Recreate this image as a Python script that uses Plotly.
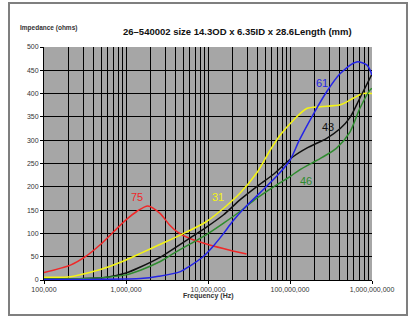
import math
import plotly.graph_objects as go

# ---- data (frequency in Hz, impedance in ohms) ----
f75 = [1.0e5, 2.1e5, 3.2e5, 4.8e5, 7.1e5, 1.0e6, 1.35e6, 1.85e6, 2.6e6, 3.4e6, 4.3e6, 6.0e6, 1.05e7, 1.85e7, 2.95e7]
z75 = [16, 32, 50, 75, 104, 129, 147, 159, 143, 118, 102, 89, 75, 64, 56]

f31 = [1.0e5, 2.1e5, 3.6e5, 6.3e5, 1.0e6, 1.5e6, 2.5e6, 4.8e6, 9.5e6, 1.55e7, 2.45e7, 3.9e7, 5.75e7, 7.6e7, 1.1e8, 1.6e8, 2.35e8, 4.1e8, 5.9e8, 7.8e8, 1.0e9]
z31 = [6, 7, 16, 29, 43, 57, 75, 98, 125, 154, 186, 229, 279, 311, 343, 368, 372, 376, 390, 400, 400]

f43 = [1.0e5, 3.2e5, 5.8e5, 1.0e6, 1.5e6, 2.5e6, 6.0e6, 9.5e6, 1.55e7, 2.45e7, 3.9e7, 6.3e7, 1.1e8, 1.6e8, 2.8e8, 4.1e8, 5.4e8, 7.1e8, 1.0e9]
z43 = [2, 3, 6, 15, 28, 47, 90, 113, 140, 172, 200, 227, 265, 283, 304, 325, 349, 390, 442]

f46 = [1.0e5, 3.2e5, 1.0e6, 1.5e6, 2.5e6, 3.8e6, 6.0e6, 9.5e6, 1.55e7, 2.45e7, 3.9e7, 6.3e7, 1.0e8, 1.3e8, 2.35e8, 3.7e8, 5.4e8, 7.1e8, 9.5e8, 1.0e9]
z46 = [2, 3, 11, 21, 38, 57, 77, 97, 122, 147, 175, 200, 222, 236, 261, 283, 318, 368, 408, 411]

f61 = [1.0e5, 3.2e5, 1.0e6, 1.5e6, 2.5e6, 4.6e6, 6.0e6, 8.7e6, 1.15e7, 1.55e7, 2.0e7, 2.8e7, 4.3e7, 6.9e7, 1.0e8, 1.3e8, 1.9e8, 2.8e8, 4.1e8, 6.5e8, 8.7e8, 1.0e9]
z61 = [1, 1, 2, 3, 8, 18, 30, 50, 72, 100, 126, 155, 187, 223, 257, 300, 354, 404, 443, 468, 461, 440]

series = [
    ("75", f75, z75, "#f02828"),
    ("31", f31, z31, "#f4f414"),
    ("43", f43, z43, "#101010"),
    ("46", f46, z46, "#2e8b2e"),
    ("61", f61, z61, "#2424e6"),
]

# label positions (frequency, ohms)
label_f = {"75": 1.35e6, "31": 1.33e7, "61": 2.45e8, "43": 2.93e8, "46": 1.57e8}
label_z = {"75": 178, "31": 178, "61": 422, "43": 329, "46": 212}

x_tickvals = [1e5, 1e6, 1e7, 1e8, 1e9]
x_ticktext = ["100,000", "1,000,000", "10,000,000", "100,000,000", "1,000,000,000"]
y_tickvals = [0, 50, 100, 150, 200, 250, 300, 350, 400, 450, 500]

fig = go.Figure()
for name, f, z, c in series:
    fig.add_trace(go.Scatter(x=f, y=z, mode="lines", name=name,
                             line=dict(color=c, width=1.5, shape="spline", smoothing=0.8),
                             hoverinfo="skip"))
    fig.add_annotation(x=math.log10(label_f[name]), y=label_z[name], text=name,
                       showarrow=False, font=dict(family="Liberation Sans, Arial", size=11, color=c))

fig.update_layout(
    width=419, height=324,
    margin=dict(l=44, r=47, t=47, b=44),
    paper_bgcolor="white",
    plot_bgcolor="#a6a6a6",
    showlegend=False,
    font=dict(family="Liberation Sans, Arial", size=7, color="#333333"),
)
fig.update_xaxes(
    type="log", range=[5, 9],
    tickvals=x_tickvals, ticktext=x_ticktext,
    showgrid=True, gridcolor="black", gridwidth=1,
    minor=dict(dtick="D1", showgrid=True, gridcolor="black", gridwidth=1, ticks=""),
    ticks="outside", ticklen=3, tickcolor="black",
    showline=True, linecolor="black", linewidth=1,
    tickfont=dict(size=7, color="#333333"),
    zeroline=False,
)
fig.update_yaxes(
    range=[0, 500], tickvals=y_tickvals,
    showgrid=True, gridcolor="black", gridwidth=1,
    ticks="outside", ticklen=3, tickcolor="black",
    showline=True, linecolor="black", linewidth=1,
    tickfont=dict(size=7, color="#333333"),
    zeroline=False,
)

fig.add_annotation(xref="paper", yref="paper", x=0.591, y=1.099,
                   text="<b>26–540002 size 14.3OD x 6.35ID x 28.6Length (mm)</b>",
                   showarrow=False, font=dict(size=9.5, color="#111111"))
fig.add_annotation(xref="paper", yref="paper", x=-0.079, y=1.107, xanchor="left",
                   text="<b>Impedance (ohms)</b>",
                   showarrow=False, font=dict(size=6.5, color="#333333"))
fig.add_annotation(xref="paper", yref="paper", x=0.5, y=-0.094,
                   text="<b>Frequency (Hz)</b>",
                   showarrow=False, font=dict(size=7, color="#333333"))

fig.add_shape(type="rect", xref="paper", yref="paper",
              x0=-0.1067, x1=1.1067, y0=-0.150, y1=1.189,
              line=dict(color="#7f7f7f", width=2), fillcolor="rgba(0,0,0,0)", layer="below")

fig.write_html("out.html")
